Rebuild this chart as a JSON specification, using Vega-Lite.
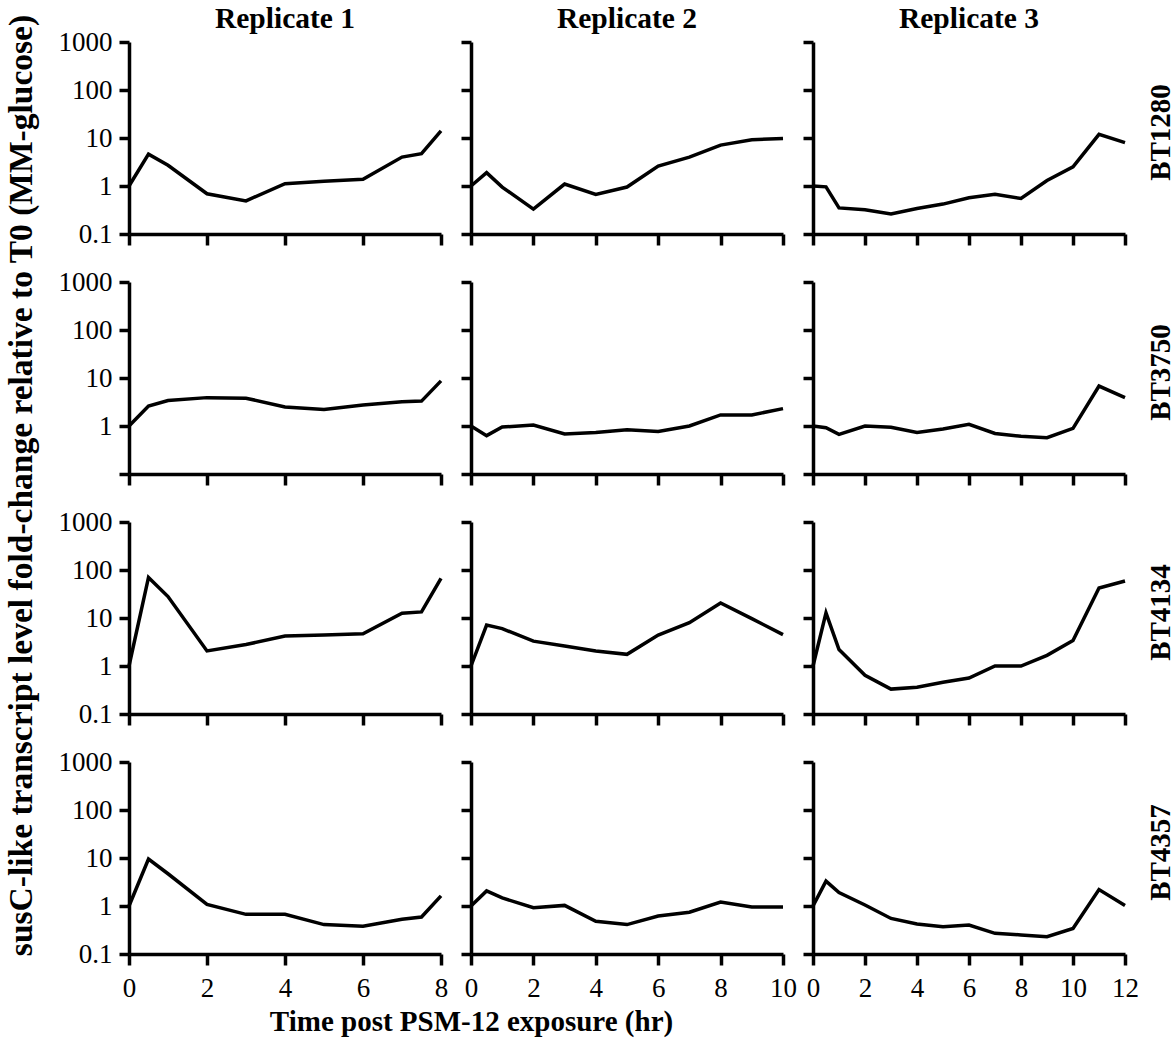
{
  "$schema": "https://vega.github.io/schema/vega-lite/v6.json",
  "padding": {"left": 3, "top": 3, "right": 0, "bottom": 5},
  "background": "white",
  "data": {"values": [
    {"g":"BT1280","r":1,"t":0,"v":1},{"g":"BT1280","r":1,"t":0.5,"v":4.6},{"g":"BT1280","r":1,"t":1,"v":2.7},{"g":"BT1280","r":1,"t":2,"v":0.69},{"g":"BT1280","r":1,"t":3,"v":0.49},{"g":"BT1280","r":1,"t":4,"v":1.12},{"g":"BT1280","r":1,"t":5,"v":1.25},{"g":"BT1280","r":1,"t":6,"v":1.38},{"g":"BT1280","r":1,"t":7,"v":4.0},{"g":"BT1280","r":1,"t":7.5,"v":4.7},{"g":"BT1280","r":1,"t":8,"v":14},
    {"g":"BT1280","r":2,"t":0,"v":1},{"g":"BT1280","r":2,"t":0.5,"v":1.9},{"g":"BT1280","r":2,"t":1,"v":0.95},{"g":"BT1280","r":2,"t":2,"v":0.33},{"g":"BT1280","r":2,"t":3,"v":1.1},{"g":"BT1280","r":2,"t":4,"v":0.67},{"g":"BT1280","r":2,"t":5,"v":0.95},{"g":"BT1280","r":2,"t":6,"v":2.6},{"g":"BT1280","r":2,"t":7,"v":4.0},{"g":"BT1280","r":2,"t":8,"v":7.1},{"g":"BT1280","r":2,"t":9,"v":9.2},{"g":"BT1280","r":2,"t":10,"v":9.8},
    {"g":"BT1280","r":3,"t":0,"v":1},{"g":"BT1280","r":3,"t":0.5,"v":0.96},{"g":"BT1280","r":3,"t":1,"v":0.35},{"g":"BT1280","r":3,"t":2,"v":0.32},{"g":"BT1280","r":3,"t":3,"v":0.26},{"g":"BT1280","r":3,"t":4,"v":0.34},{"g":"BT1280","r":3,"t":5,"v":0.42},{"g":"BT1280","r":3,"t":6,"v":0.57},{"g":"BT1280","r":3,"t":7,"v":0.67},{"g":"BT1280","r":3,"t":8,"v":0.55},{"g":"BT1280","r":3,"t":9,"v":1.3},{"g":"BT1280","r":3,"t":10,"v":2.5},{"g":"BT1280","r":3,"t":11,"v":11.9},{"g":"BT1280","r":3,"t":12,"v":8.0},
    {"g":"BT3750","r":1,"t":0,"v":1},{"g":"BT3750","r":1,"t":0.5,"v":2.6},{"g":"BT3750","r":1,"t":1,"v":3.4},{"g":"BT3750","r":1,"t":2,"v":3.9},{"g":"BT3750","r":1,"t":3,"v":3.8},{"g":"BT3750","r":1,"t":4,"v":2.5},{"g":"BT3750","r":1,"t":5,"v":2.2},{"g":"BT3750","r":1,"t":6,"v":2.75},{"g":"BT3750","r":1,"t":7,"v":3.2},{"g":"BT3750","r":1,"t":7.5,"v":3.3},{"g":"BT3750","r":1,"t":8,"v":8.7},
    {"g":"BT3750","r":2,"t":0,"v":1},{"g":"BT3750","r":2,"t":0.5,"v":0.63},{"g":"BT3750","r":2,"t":1,"v":0.95},{"g":"BT3750","r":2,"t":2,"v":1.05},{"g":"BT3750","r":2,"t":3,"v":0.68},{"g":"BT3750","r":2,"t":4,"v":0.73},{"g":"BT3750","r":2,"t":5,"v":0.84},{"g":"BT3750","r":2,"t":6,"v":0.77},{"g":"BT3750","r":2,"t":7,"v":1.0},{"g":"BT3750","r":2,"t":8,"v":1.7},{"g":"BT3750","r":2,"t":9,"v":1.7},{"g":"BT3750","r":2,"t":10,"v":2.3},
    {"g":"BT3750","r":3,"t":0,"v":1},{"g":"BT3750","r":3,"t":0.5,"v":0.92},{"g":"BT3750","r":3,"t":1,"v":0.67},{"g":"BT3750","r":3,"t":2,"v":1.0},{"g":"BT3750","r":3,"t":3,"v":0.94},{"g":"BT3750","r":3,"t":4,"v":0.73},{"g":"BT3750","r":3,"t":5,"v":0.87},{"g":"BT3750","r":3,"t":6,"v":1.08},{"g":"BT3750","r":3,"t":7,"v":0.7},{"g":"BT3750","r":3,"t":8,"v":0.61},{"g":"BT3750","r":3,"t":9,"v":0.57},{"g":"BT3750","r":3,"t":10,"v":0.89},{"g":"BT3750","r":3,"t":11,"v":6.8},{"g":"BT3750","r":3,"t":12,"v":3.9},
    {"g":"BT4134","r":1,"t":0,"v":1},{"g":"BT4134","r":1,"t":0.5,"v":70},{"g":"BT4134","r":1,"t":1,"v":28},{"g":"BT4134","r":1,"t":2,"v":2.06},{"g":"BT4134","r":1,"t":3,"v":2.8},{"g":"BT4134","r":1,"t":4,"v":4.2},{"g":"BT4134","r":1,"t":5,"v":4.4},{"g":"BT4134","r":1,"t":6,"v":4.7},{"g":"BT4134","r":1,"t":7,"v":12.6},{"g":"BT4134","r":1,"t":7.5,"v":13.4},{"g":"BT4134","r":1,"t":8,"v":67},
    {"g":"BT4134","r":2,"t":0,"v":1},{"g":"BT4134","r":2,"t":0.5,"v":7.1},{"g":"BT4134","r":2,"t":1,"v":6.0},{"g":"BT4134","r":2,"t":2,"v":3.3},{"g":"BT4134","r":2,"t":3,"v":2.6},{"g":"BT4134","r":2,"t":4,"v":2.06},{"g":"BT4134","r":2,"t":5,"v":1.75},{"g":"BT4134","r":2,"t":6,"v":4.4},{"g":"BT4134","r":2,"t":7,"v":8.0},{"g":"BT4134","r":2,"t":8,"v":20.6},{"g":"BT4134","r":2,"t":9,"v":9.7},{"g":"BT4134","r":2,"t":10,"v":4.5},
    {"g":"BT4134","r":3,"t":0,"v":1},{"g":"BT4134","r":3,"t":0.5,"v":12.8},{"g":"BT4134","r":3,"t":1,"v":2.2},{"g":"BT4134","r":3,"t":2,"v":0.64},{"g":"BT4134","r":3,"t":3,"v":0.33},{"g":"BT4134","r":3,"t":4,"v":0.36},{"g":"BT4134","r":3,"t":5,"v":0.46},{"g":"BT4134","r":3,"t":6,"v":0.56},{"g":"BT4134","r":3,"t":7,"v":1.0},{"g":"BT4134","r":3,"t":8,"v":1.0},{"g":"BT4134","r":3,"t":9,"v":1.67},{"g":"BT4134","r":3,"t":10,"v":3.4},{"g":"BT4134","r":3,"t":11,"v":42},{"g":"BT4134","r":3,"t":12,"v":59},
    {"g":"BT4357","r":1,"t":0,"v":1},{"g":"BT4357","r":1,"t":0.5,"v":9.5},{"g":"BT4357","r":1,"t":1,"v":4.7},{"g":"BT4357","r":1,"t":2,"v":1.08},{"g":"BT4357","r":1,"t":3,"v":0.67},{"g":"BT4357","r":1,"t":4,"v":0.67},{"g":"BT4357","r":1,"t":5,"v":0.41},{"g":"BT4357","r":1,"t":6,"v":0.38},{"g":"BT4357","r":1,"t":7,"v":0.53},{"g":"BT4357","r":1,"t":7.5,"v":0.59},{"g":"BT4357","r":1,"t":8,"v":1.63},
    {"g":"BT4357","r":2,"t":0,"v":1},{"g":"BT4357","r":2,"t":0.5,"v":2.06},{"g":"BT4357","r":2,"t":1,"v":1.47},{"g":"BT4357","r":2,"t":2,"v":0.92},{"g":"BT4357","r":2,"t":3,"v":1.03},{"g":"BT4357","r":2,"t":4,"v":0.48},{"g":"BT4357","r":2,"t":5,"v":0.41},{"g":"BT4357","r":2,"t":6,"v":0.62},{"g":"BT4357","r":2,"t":7,"v":0.74},{"g":"BT4357","r":2,"t":8,"v":1.21},{"g":"BT4357","r":2,"t":9,"v":0.95},{"g":"BT4357","r":2,"t":10,"v":0.95},
    {"g":"BT4357","r":3,"t":0,"v":1},{"g":"BT4357","r":3,"t":0.5,"v":3.3},{"g":"BT4357","r":3,"t":1,"v":1.9},{"g":"BT4357","r":3,"t":2,"v":1.05},{"g":"BT4357","r":3,"t":3,"v":0.55},{"g":"BT4357","r":3,"t":4,"v":0.42},{"g":"BT4357","r":3,"t":5,"v":0.37},{"g":"BT4357","r":3,"t":6,"v":0.4},{"g":"BT4357","r":3,"t":7,"v":0.27},{"g":"BT4357","r":3,"t":8,"v":0.25},{"g":"BT4357","r":3,"t":9,"v":0.23},{"g":"BT4357","r":3,"t":10,"v":0.34},{"g":"BT4357","r":3,"t":11,"v":2.2},{"g":"BT4357","r":3,"t":12,"v":1.03}
  ]},
  "columns": 3,
  "spacing": {"row": 48, "column": 30},
  "bounds": "flush",
  "concat": [
    {"width":312,"height":192,"title":{"text":"Replicate 1","offset":-6},
     "transform":[{"filter":"datum.g==='BT1280' && datum.r===1"}],
     "mark":{"type":"line","color":"black","strokeWidth":3.5},
     "encoding":{
       "x":{"field":"t","type":"quantitative","scale":{"domain":[0,8],"nice":false,"zero":false},"axis":{"values":[0,2,4,6,8],"labels":false,"title":null}},
       "y":{"field":"v","type":"quantitative","scale":{"type":"log","domain":[0.1,1000],"nice":false},"axis":{"values":[0.1,1,10,100,1000],"format":"~g","title":null}}}},
    {"width":312,"height":192,"title":{"text":"Replicate 2"},
     "transform":[{"filter":"datum.g==='BT1280' && datum.r===2"}],
     "mark":{"type":"line","color":"black","strokeWidth":3.5},
     "encoding":{
       "x":{"field":"t","type":"quantitative","scale":{"domain":[0,10],"nice":false,"zero":false},"axis":{"values":[0,2,4,6,8,10],"labels":false,"title":null}},
       "y":{"field":"v","type":"quantitative","scale":{"type":"log","domain":[0.1,1000],"nice":false},"axis":{"values":[0.1,1,10,100,1000],"labels":false,"title":null}}}},
    {"width":312,"height":192,"title":{"text":"Replicate 3"},
     "transform":[{"filter":"datum.g==='BT1280' && datum.r===3"}],
     "mark":{"type":"line","color":"black","strokeWidth":3.5},
     "encoding":{
       "x":{"field":"t","type":"quantitative","scale":{"domain":[0,12],"nice":false,"zero":false},"axis":{"values":[0,2,4,6,8,10,12],"labels":false,"title":null}},
       "y":{"field":"v","type":"quantitative","scale":{"type":"log","domain":[0.1,1000],"nice":false},"axis":{"values":[0.1,1,10,100,1000],"labels":false,"title":"BT1280","titleX":347,"titleY":90,"titleAngle":270,"titleAlign":"center","titleBaseline":"middle"}}}},

    {"width":312,"height":192,
     "transform":[{"filter":"datum.g==='BT3750' && datum.r===1"}],
     "mark":{"type":"line","color":"black","strokeWidth":3.5},
     "encoding":{
       "x":{"field":"t","type":"quantitative","scale":{"domain":[0,8],"nice":false,"zero":false},"axis":{"values":[0,2,4,6,8],"labels":false,"title":null}},
       "y":{"field":"v","type":"quantitative","scale":{"type":"log","domain":[0.1,1000],"nice":false},"axis":{"values":[0.1,1,10,100,1000],"labelExpr":"datum.value < 0.5 ? '' : format(datum.value, '~g')","title":null}}}},
    {"width":312,"height":192,
     "transform":[{"filter":"datum.g==='BT3750' && datum.r===2"}],
     "mark":{"type":"line","color":"black","strokeWidth":3.5},
     "encoding":{
       "x":{"field":"t","type":"quantitative","scale":{"domain":[0,10],"nice":false,"zero":false},"axis":{"values":[0,2,4,6,8,10],"labels":false,"title":null}},
       "y":{"field":"v","type":"quantitative","scale":{"type":"log","domain":[0.1,1000],"nice":false},"axis":{"values":[0.1,1,10,100,1000],"labels":false,"title":null}}}},
    {"width":312,"height":192,
     "transform":[{"filter":"datum.g==='BT3750' && datum.r===3"}],
     "mark":{"type":"line","color":"black","strokeWidth":3.5},
     "encoding":{
       "x":{"field":"t","type":"quantitative","scale":{"domain":[0,12],"nice":false,"zero":false},"axis":{"values":[0,2,4,6,8,10,12],"labels":false,"title":null}},
       "y":{"field":"v","type":"quantitative","scale":{"type":"log","domain":[0.1,1000],"nice":false},"axis":{"values":[0.1,1,10,100,1000],"labels":false,"title":"BT3750","titleX":347,"titleY":90,"titleAngle":270,"titleAlign":"center","titleBaseline":"middle"}}}},

    {"width":312,"height":192,
     "transform":[{"filter":"datum.g==='BT4134' && datum.r===1"}],
     "mark":{"type":"line","color":"black","strokeWidth":3.5},
     "encoding":{
       "x":{"field":"t","type":"quantitative","scale":{"domain":[0,8],"nice":false,"zero":false},"axis":{"values":[0,2,4,6,8],"labels":false,"title":null}},
       "y":{"field":"v","type":"quantitative","scale":{"type":"log","domain":[0.1,1000],"nice":false},"axis":{"values":[0.1,1,10,100,1000],"format":"~g","title":null}}}},
    {"width":312,"height":192,
     "transform":[{"filter":"datum.g==='BT4134' && datum.r===2"}],
     "mark":{"type":"line","color":"black","strokeWidth":3.5},
     "encoding":{
       "x":{"field":"t","type":"quantitative","scale":{"domain":[0,10],"nice":false,"zero":false},"axis":{"values":[0,2,4,6,8,10],"labels":false,"title":null}},
       "y":{"field":"v","type":"quantitative","scale":{"type":"log","domain":[0.1,1000],"nice":false},"axis":{"values":[0.1,1,10,100,1000],"labels":false,"title":null}}}},
    {"width":312,"height":192,
     "transform":[{"filter":"datum.g==='BT4134' && datum.r===3"}],
     "mark":{"type":"line","color":"black","strokeWidth":3.5},
     "encoding":{
       "x":{"field":"t","type":"quantitative","scale":{"domain":[0,12],"nice":false,"zero":false},"axis":{"values":[0,2,4,6,8,10,12],"labels":false,"title":null}},
       "y":{"field":"v","type":"quantitative","scale":{"type":"log","domain":[0.1,1000],"nice":false},"axis":{"values":[0.1,1,10,100,1000],"labels":false,"title":"BT4134","titleX":347,"titleY":90,"titleAngle":270,"titleAlign":"center","titleBaseline":"middle"}}}},

    {"width":312,"height":192,
     "transform":[{"filter":"datum.g==='BT4357' && datum.r===1"}],
     "mark":{"type":"line","color":"black","strokeWidth":3.5},
     "encoding":{
       "x":{"field":"t","type":"quantitative","scale":{"domain":[0,8],"nice":false,"zero":false},"axis":{"values":[0,2,4,6,8],"format":"d","title":null}},
       "y":{"field":"v","type":"quantitative","scale":{"type":"log","domain":[0.1,1000],"nice":false},"axis":{"values":[0.1,1,10,100,1000],"format":"~g","title":"susC-like transcript level fold-change relative to T0 (MM-glucose)","titleFontSize":33.5,"titleX":-108,"titleY":-277,"titleAngle":270,"titleAlign":"center","titleBaseline":"middle"}}}},
    {"width":312,"height":192,
     "transform":[{"filter":"datum.g==='BT4357' && datum.r===2"}],
     "mark":{"type":"line","color":"black","strokeWidth":3.5},
     "encoding":{
       "x":{"field":"t","type":"quantitative","scale":{"domain":[0,10],"nice":false,"zero":false},"axis":{"values":[0,2,4,6,8,10],"format":"d","title":"Time post PSM-12 exposure (hr)","titleX":0,"titleY":76,"titleAlign":"center","titleBaseline":"alphabetic","titleAngle":0}},
       "y":{"field":"v","type":"quantitative","scale":{"type":"log","domain":[0.1,1000],"nice":false},"axis":{"values":[0.1,1,10,100,1000],"labels":false,"title":null}}}},
    {"width":312,"height":192,
     "transform":[{"filter":"datum.g==='BT4357' && datum.r===3"}],
     "mark":{"type":"line","color":"black","strokeWidth":3.5},
     "encoding":{
       "x":{"field":"t","type":"quantitative","scale":{"domain":[0,12],"nice":false,"zero":false},"axis":{"values":[0,2,4,6,8,10,12],"format":"d","title":null}},
       "y":{"field":"v","type":"quantitative","scale":{"type":"log","domain":[0.1,1000],"nice":false},"axis":{"values":[0.1,1,10,100,1000],"labels":false,"title":"BT4357","titleX":347,"titleY":90,"titleAngle":270,"titleAlign":"center","titleBaseline":"middle"}}}}
  ],
  "config": {
    "font": "Liberation Serif",
    "view": {"stroke": null},
    "axis": {"grid": false, "domainColor": "black", "domainWidth": 3.5, "tickColor": "black", "tickWidth": 3.5,
             "labelColor": "black", "labelFont": "Liberation Serif", "labelFontSize": 27,
             "titleFont": "Liberation Serif", "titleFontSize": 29, "titleFontWeight": "bold", "titleColor": "black",
             "labelFlush": false, "labelOverlap": false},
    "axisX": {"tickSize": 11, "labelPadding": 10},
    "axisY": {"tickSize": 10, "labelPadding": 7},
    "title": {"font": "Liberation Serif", "fontSize": 29.5, "fontWeight": "bold", "color": "black", "baseline": "alphabetic", "offset": 6, "frame": "group"}
  }
}
